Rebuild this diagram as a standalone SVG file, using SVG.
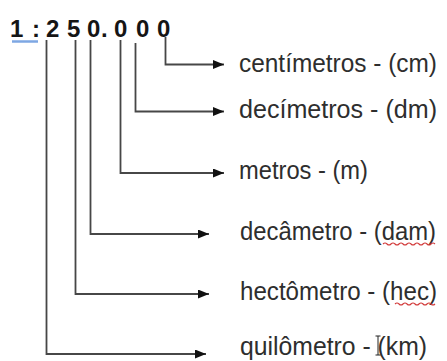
<svg xmlns="http://www.w3.org/2000/svg" width="447" height="361" viewBox="0 0 447 361">
  <style>
    .scale { font-family: "Liberation Sans", Arial, sans-serif; font-weight: bold; font-size: 24px; fill: #151515; }
    .label { font-family: "Liberation Sans", Arial, sans-serif; font-size: 25px; fill: #2e2e2e; }
    .conn { fill: none; stroke: #474747; stroke-width: 1.8; marker-end: url(#arrow); }
    .squiggle { fill: none; stroke: #d23a3a; stroke-width: 1.1; }
  </style>
  <defs>
    <marker id="arrow" markerUnits="userSpaceOnUse" markerWidth="12" markerHeight="10" refX="11" refY="4.5" orient="auto">
      <path d="M0,0 L11,4.5 L0,9 z" fill="#111"/>
    </marker>
  </defs>
  <rect width="447" height="361" fill="#ffffff"/>

  <!-- scale ratio, each digit placed individually -->
  <g id="scale">
    <line x1="12" y1="41.5" x2="38" y2="41.5" stroke="#7ea7e3" stroke-width="2.5"/>
    <text class="scale" x="10 32 46 67 87 101 114 136 157" y="37">1:250.000</text>
  </g>

  <!-- leader lines from each digit to its unit -->
  <g id="connectors">
    <path class="conn" d="M165.5,37 V64.5 H224"/>
    <path class="conn" d="M135.5,43 V111.5 H224"/>
    <path class="conn" d="M120.5,40 V173 H224"/>
    <path class="conn" d="M90.5,40 V234 H209"/>
    <path class="conn" d="M75.5,40 V294 H209"/>
    <path class="conn" d="M46.5,40 V354 H206"/>
  </g>

  <g id="centimetros">
    <text class="label" x="239" y="72" textLength="198" lengthAdjust="spacingAndGlyphs">centímetros - (cm)</text>
  </g>
  <g id="decimetros">
    <text class="label" x="239" y="118" textLength="198" lengthAdjust="spacingAndGlyphs">decímetros - (dm)</text>
  </g>
  <g id="metros">
    <text class="label" x="239" y="179" textLength="129" lengthAdjust="spacingAndGlyphs">metros - (m)</text>
  </g>
  <g id="decametro">
    <text class="label" x="240" y="240" textLength="196" lengthAdjust="spacingAndGlyphs">decâmetro - (dam)</text>
    <path class="squiggle" d="M383,244 q2,-2 4,0 t4,0 t4,0 t4,0 t4,0 t4,0 t4,0 t4,0 t4,0 t4,0 t4,0 t4,0 t4,0"/>
  </g>
  <g id="hectometro">
    <text class="label" x="240" y="300" textLength="197" lengthAdjust="spacingAndGlyphs">hectômetro - (hec)</text>
    <path class="squiggle" d="M395,304 q2,-2 4,0 t4,0 t4,0 t4,0 t4,0 t4,0 t4,0 t4,0 t4,0 t4,0"/>
  </g>
  <g id="quilometro">
    <text class="label" x="240" y="355" textLength="187" lengthAdjust="spacingAndGlyphs">quilômetro - (km)</text>
    <path d="M375.5,336 H380.5 M378,336 V355 M375.5,355 H380.5" fill="none" stroke="#222" stroke-width="1"/>
  </g>
</svg>
